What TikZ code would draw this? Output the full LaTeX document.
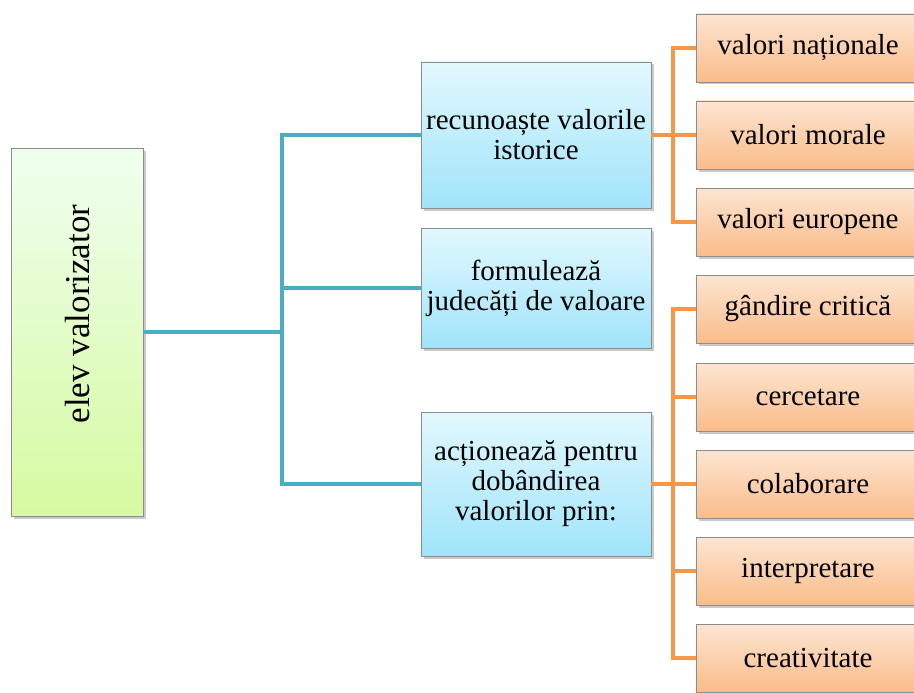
\documentclass[tikz,border=0pt]{standalone}
\usepackage{fontspec}
\setmainfont{Liberation Serif}
\usetikzlibrary{shadows}
\definecolor{aqualine}{HTML}{4BACC6}
\definecolor{orangeline}{HTML}{F79646}
\definecolor{boxedge}{HTML}{8C8C8C}
\tikzset{
  boxfont/.style={font=\fontsize{29}{30}\selectfont},
  card/.style={draw=boxedge, line width=0.8pt, align=center, inner sep=1pt, boxfont,
    drop shadow={shadow xshift=2.5pt, shadow yshift=-2.5pt, opacity=0.35, fill=black!60}},
  rootbox/.style={card, top color=green!6!white, bottom color={rgb,255:red,214;green,250;blue,160},
    minimum width=132pt, minimum height=368pt},
  midbox/.style={card, top color={rgb,255:red,226;green,248;blue,255}, bottom color={rgb,255:red,160;green,228;blue,250},
    minimum width=230pt},
  leafbox/.style={card, top color={rgb,255:red,253;green,229;blue,210}, bottom color={rgb,255:red,250;green,188;blue,138},
    minimum width=224pt, minimum height=68pt},
  aqualink/.style={draw=aqualine, line width=4.5pt},
  orangelink/.style={draw=orangeline, line width=4.5pt},
}
\begin{document}
\begin{tikzpicture}[x=1pt, y=-1pt]
  \useasboundingbox (0,0) rectangle (914,693);

  % root
  \node[rootbox] (root) at (77,332) {};
  \node[rotate=90, font=\fontsize{35}{36}\selectfont] (roottext) at (78,314) {elev valorizator};

  % middle column
  \node[midbox, minimum height=146pt] (m1) at (536,135) {recunoaște valorile\\istorice};
  \node[midbox, minimum height=120pt] (m2) at (536,288) {formulează\\judecăți de valoare};
  \node[midbox, minimum height=144pt] (m3) at (536,484) {acționează pentru\\dobândirea\\valorilor prin:};

  % right column, first group
  \node[leafbox] (a1) at (808,48)  {valori naționale};
  \node[leafbox] (a2) at (808,135) {valori morale};
  \node[leafbox] (a3) at (808,222) {valori europene};

  % right column, second group
  \node[leafbox] (b1) at (808,309) {gândire critică};
  \node[leafbox] (b2) at (808,397) {cercetare};
  \node[leafbox] (b3) at (808,484) {colaborare};
  \node[leafbox] (b4) at (808,571) {interpretare};
  \node[leafbox] (b5) at (808,658) {creativitate};

  % junction points of the trees
  \coordinate (ja) at (282,332);
  \coordinate (jb) at (673,135);
  \coordinate (jc) at (673,484);

  % aqua tree from the root
  \draw[aqualink] (root.east) -- (ja);
  \draw[aqualink] (m1.west) -- (m1.west -| ja) -- (m3.west -| ja) -- (m3.west);
  \draw[aqualink] (m2.west -| ja) -- (m2.west);

  % orange tree, first group
  \draw[orangelink] (m1.east) -- (jb);
  \draw[orangelink] (a1.west) -- (a1.west -| jb) -- (a3.west -| jb) -- (a3.west);
  \draw[orangelink] (a2.west -| jb) -- (a2.west);

  % orange tree, second group
  \draw[orangelink] (m3.east) -- (jc);
  \draw[orangelink] (b1.west) -- (b1.west -| jc) -- (b5.west -| jc) -- (b5.west);
  \foreach \n in {b2,b3,b4} \draw[orangelink] (\n.west -| jc) -- (\n.west);
\end{tikzpicture}
\end{document}
